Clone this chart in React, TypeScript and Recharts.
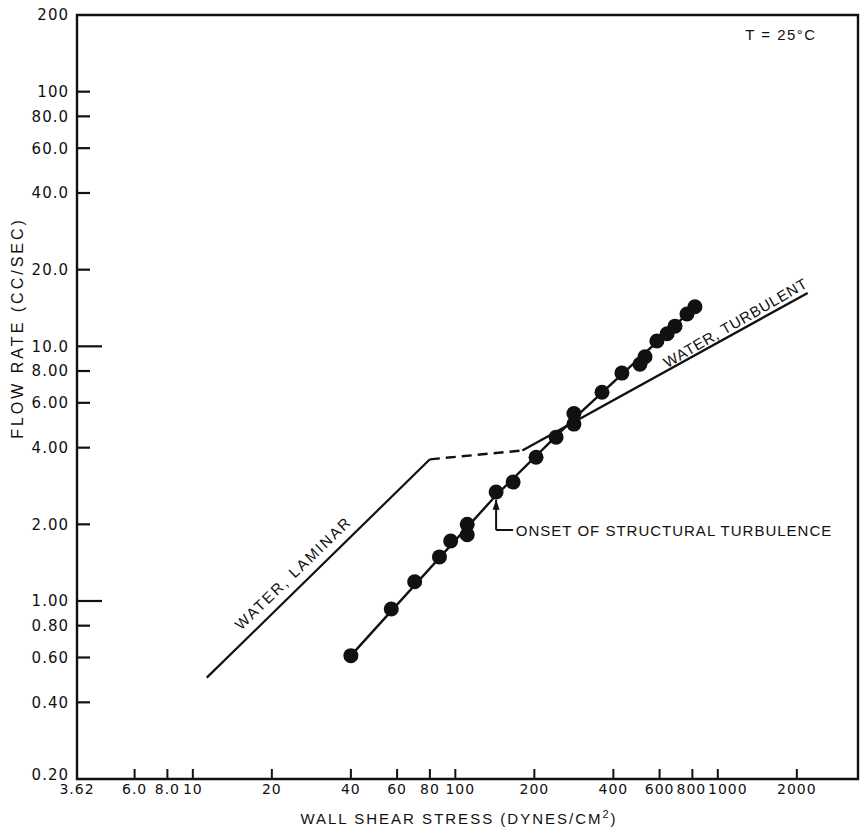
import { ComposedChart, Label, Line, ReferenceArea, ReferenceDot, ReferenceLine, Scatter, XAxis, YAxis } from 'recharts';

const shearStress = [40, 57, 70, 87, 96, 111, 111, 143, 166, 203, 242, 283, 283, 362, 431, 505, 528, 586, 641, 687, 763, 818];
const flowRate = [0.61, 0.93, 1.19, 1.49, 1.72, 1.82, 2.0, 2.68, 2.93, 3.67, 4.4, 4.95, 5.45, 6.6, 7.85, 8.5, 9.1, 10.5, 11.2, 12.0, 13.4, 14.3];

// line drawn through the measured points
const fitStress = [40, 143, 283, 818];
const fitFlow = [0.61, 2.6, 5.2, 14.3];

// water reference lines
const laminarStress = [11.3, 80];
const laminarFlow = [0.5, 3.6];
const transitionStress = [80, 180];
const transitionFlow = [3.6, 3.9];
const turbulentStress = [180, 2200];
const turbulentFlow = [3.9, 16.2];

const xTicks = [3.62, 6, 8, 10, 20, 40, 60, 80, 100, 200, 400, 600, 800, 1000, 2000];
const xTickLabels = ['3.62', '6.0', '8.0', '10', '20', '40', '60', '80', '100', '200', '400', '600', '800', '1000', '2000'];
const yTicks = [0.2, 0.4, 0.6, 0.8, 1, 2, 4, 6, 8, 10, 20, 40, 60, 80, 100, 200];
const yTickLabels = ['0.20', '0.40', '0.60', '0.80', '1.00', '2.00', '4.00', '6.00', '8.00', '10.0', '20.0', '40.0', '60.0', '80.0', '100', '200'];

const X_DOMAIN = [3.62, 3420];
const Y_DOMAIN = [0.2, 200];

const pts = (xs: number[], ys: number[]) => xs.map((x, i) => ({ x, y: ys[i] }));

const INK = '#111';
const TICK_FONT = 'DejaVu Sans, sans-serif';
const TEXT_FONT = 'Liberation Sans, Arial, sans-serif';

const Y_MARGIN = 8;
const X_MARGIN = 15;

const YTick = ({ x, y, payload }: any) => {
  const i = yTicks.indexOf(payload.value);
  const ax = x + Y_MARGIN;
  const v = payload.value;
  const len = v === 1 || v === 10 ? 25 : v === 0.2 || v === 200 ? 0 : 13;
  // bottom label is lifted so it clears the 3.62 label under the corner
  const lift = v === 0.2 ? -4 : 0;
  return (
    <g>
      {len > 0 && <line x1={ax} x2={ax + len} y1={y} y2={y} stroke={INK} strokeWidth={2.2} />}
      <text x={x} y={y + lift} dy="0.36em" textAnchor="end" fontSize={15} letterSpacing={1} fontFamily={TICK_FONT} fill={INK}>
        {yTickLabels[i]}
      </text>
    </g>
  );
};

const XTick = ({ x, y, payload }: any) => {
  const i = xTicks.indexOf(payload.value);
  const ay = y - X_MARGIN;
  // the 100 and 1000 labels sit a little right of their ticks in the original
  const nudge = payload.value === 1000 ? 10 : payload.value === 100 ? 5 : payload.value === 800 ? -1 : 0;
  return (
    <g>
      {i > 0 && <line x1={x} x2={x} y1={ay} y2={ay - 10} stroke={INK} strokeWidth={2} />}
      <text x={x + nudge} y={y} textAnchor="middle" fontSize={14} letterSpacing={1} fontFamily={TICK_FONT} fill={INK}>
        {xTickLabels[i]}
      </text>
    </g>
  );
};

const note = (txt: string, angle: number, anchor: string, spacing: number) => (p: any) => (
  <text
    x={p.cx}
    y={p.cy}
    transform={`rotate(${angle} ${p.cx} ${p.cy})`}
    textAnchor={anchor}
    dominantBaseline="central"
    fontSize={15}
    letterSpacing={spacing}
    fontFamily={TEXT_FONT}
    fill={INK}
  >
    {txt}
  </text>
);

const arrowHead = (p: any) => (
  <polygon points={`${p.cx},${p.cy} ${p.cx - 3.5},${p.cy + 10} ${p.cx + 3.5},${p.cy + 10}`} fill={INK} />
);

const dot = (p: any) => <circle cx={p.cx} cy={p.cy} r={7.5} fill={INK} />;

export default function App() {
  return (
    <div style={{ position: 'absolute', left: 0, top: 0, background: '#fff' }}>
      <ComposedChart width={864} height={833} margin={{ top: 15, right: 6, bottom: 0, left: 0 }}>
        <XAxis
          dataKey="x"
          type="number"
          scale="log"
          domain={X_DOMAIN}
          ticks={xTicks}
          allowDataOverflow
          axisLine={false}
          tickLine={false}
          tickSize={0}
          tickMargin={X_MARGIN}
          tick={<XTick />}
          interval={0}
          height={54}
        >
          <Label
            content={({ viewBox }: any) => (
              <text
                x={viewBox.x + 382}
                y={viewBox.y + 45}
                textAnchor="middle"
                fontSize={15}
                letterSpacing={2}
                fontFamily={TEXT_FONT}
                fill={INK}
              >
                WALL SHEAR STRESS  (DYNES/CM<tspan dy={-6} fontSize={11}>2</tspan>
                <tspan dy={6}>)</tspan>
              </text>
            )}
          />
        </XAxis>
        <YAxis
          dataKey="y"
          type="number"
          scale="log"
          domain={Y_DOMAIN}
          ticks={yTicks}
          allowDataOverflow
          axisLine={false}
          tickLine={false}
          tickSize={0}
          tickMargin={Y_MARGIN}
          tick={<YTick />}
          interval={0}
          width={77}
        >
          <Label
            content={({ viewBox }: any) => (
              <text
                x={17}
                y={viewBox.y + 313}
                transform={`rotate(-90 17 ${viewBox.y + 313})`}
                textAnchor="middle"
                dominantBaseline="central"
                fontSize={16}
                letterSpacing={3}
                fontFamily={TEXT_FONT}
                fill={INK}
              >
                FLOW RATE  (CC/SEC)
              </text>
            )}
          />
        </YAxis>

        <ReferenceArea
          x1={X_DOMAIN[0]}
          x2={X_DOMAIN[1]}
          y1={Y_DOMAIN[0]}
          y2={Y_DOMAIN[1]}
          fill="none"
          stroke={INK}
          strokeWidth={2.4}
          ifOverflow="visible"
        />

        <Line data={pts(laminarStress, laminarFlow)} dataKey="y" type="linear" stroke={INK} strokeWidth={2.2} dot={false} isAnimationActive={false} />
        <Line data={pts(transitionStress, transitionFlow)} dataKey="y" type="linear" stroke={INK} strokeWidth={2.4} strokeDasharray="10 6" dot={false} isAnimationActive={false} />
        <Line data={pts(turbulentStress, turbulentFlow)} dataKey="y" type="linear" stroke={INK} strokeWidth={2.4} dot={false} isAnimationActive={false} />
        <Line data={pts(fitStress, fitFlow)} dataKey="y" type="linear" stroke={INK} strokeWidth={2.4} dot={false} isAnimationActive={false} />
        <Scatter data={pts(shearStress, flowRate)} dataKey="y" shape={dot} isAnimationActive={false} />

        <ReferenceLine segment={[{ x: 143, y: 2.5 }, { x: 143, y: 1.9 }]} stroke={INK} strokeWidth={2} />
        <ReferenceLine segment={[{ x: 143, y: 1.9 }, { x: 166, y: 1.9 }]} stroke={INK} strokeWidth={2} />
        <ReferenceDot x={143} y={2.5} shape={arrowHead} />
        <ReferenceDot x={170} y={1.89} shape={note('ONSET OF STRUCTURAL TURBULENCE', 0, 'start', 1)} />
        <ReferenceDot x={24.1} y={1.29} shape={note('WATER, LAMINAR', -44, 'middle', 2)} />
        <ReferenceDot x={1166} y={12.4} shape={note('WATER, TURBULENT', -30, 'middle', 0.8)} />
        <ReferenceDot x={1740} y={168} shape={note('T = 25°C', 0, 'middle', 1.5)} />
      </ComposedChart>
    </div>
  );
}
